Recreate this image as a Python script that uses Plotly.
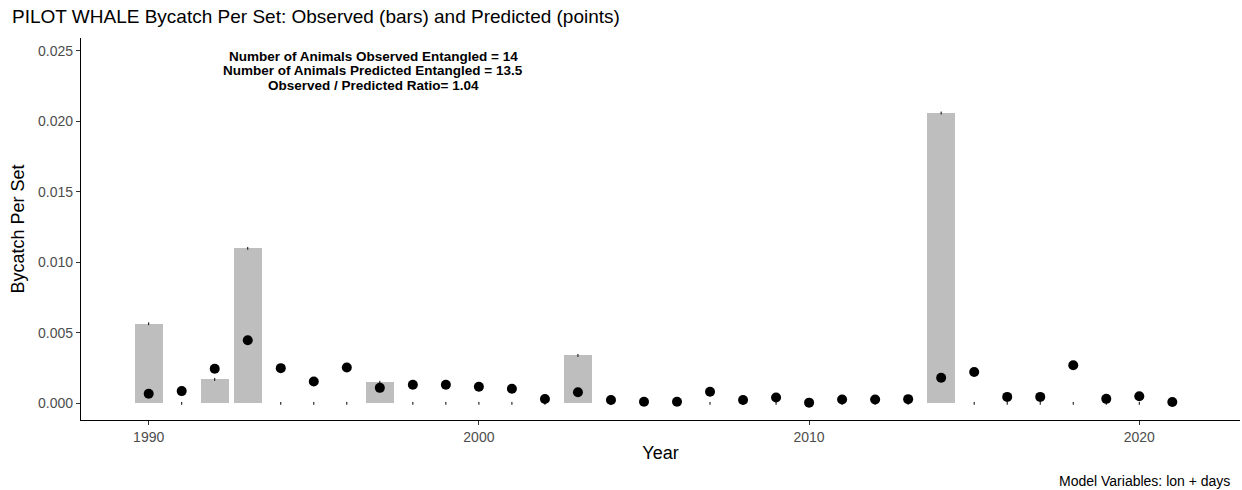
import plotly.graph_objects as go

years = list(range(1990, 2022))
observed = [0.00565, 0, 0.0017, 0.0110, 0, 0, 0, 0.0015, 0, 0,
            0, 0, 0, 0.0034, 0, 0, 0, 0, 0, 0,
            0, 0, 0, 0, 0.0206, 0, 0, 0, 0, 0,
            0, 0]
predicted = [0.00068, 0.00087, 0.00246, 0.00448, 0.0025, 0.00155, 0.00255, 0.0011, 0.00132, 0.00132,
             0.00118, 0.00104, 0.00031, 0.00079, 0.00024, 0.00012, 0.00012, 0.00082, 0.00024, 0.00042,
             0.00005, 0.00028, 0.00028, 0.0003, 0.00182, 0.00222, 0.00046, 0.00046, 0.00271, 0.00032,
             0.0005, 0.0001]

title = "PILOT WHALE Bycatch Per Set: Observed (bars) and Predicted (points)"
annot_lines = ["Number of Animals Observed Entangled = 14",
               "Number of Animals Predicted Entangled = 13.5",
               "Observed / Predicted Ratio= 1.04"]
caption = "Model Variables: lon + days"
y_ticks = [0.0, 0.005, 0.010, 0.015, 0.020, 0.025]
y_tick_labels = ["0.000", "0.005", "0.010", "0.015", "0.020", "0.025"]
x_ticks = [1990, 2000, 2010, 2020]

FONT = "Liberation Sans, Arial, sans-serif"
L, R, T, B = 81, 1240, 38, 420
W, H = 1242, 490

fig = go.Figure()
fig.add_trace(go.Bar(x=years, y=observed, width=0.85, marker=dict(color="#BEBEBE", line=dict(width=0)),
                     showlegend=False))
fig.add_trace(go.Scatter(x=years, y=observed, mode="markers",
                         marker=dict(symbol="line-ns", size=2, line=dict(color="black", width=1)),
                         showlegend=False))
fig.add_trace(go.Scatter(x=years, y=predicted, mode="markers",
                         marker=dict(color="black", size=10, line=dict(width=0)),
                         showlegend=False))

fig.update_layout(
    width=W, height=H,
    margin=dict(l=L, r=W - R, t=T, b=H - B),
    plot_bgcolor="white", paper_bgcolor="white",
    font=dict(family=FONT, color="black"),
    title=dict(text=title, x=12 / W, xanchor="left", y=1 - 16 / H, yanchor="middle",
               font=dict(size=19, color="black", family=FONT)),
    bargap=0,
)
fig.update_xaxes(range=[1987.95, 2023.05], tickmode="array", tickvals=x_ticks,
                 ticktext=[str(v) for v in x_ticks],
                 showline=True, linecolor="black", linewidth=1.2, mirror=False,
                 ticks="outside", ticklen=4, tickcolor="#333333", showgrid=False, zeroline=False,
                 tickfont=dict(size=14, color="#4D4D4D"),
                 title=dict(text="Year", font=dict(size=18, color="black"), standoff=2))
fig.update_yaxes(range=[-0.00118, 0.02592], tickmode="array", tickvals=y_ticks, ticktext=y_tick_labels,
                 showline=True, linecolor="black", linewidth=1.2,
                 ticks="outside", ticklen=4, tickcolor="#333333", showgrid=False, zeroline=False,
                 tickfont=dict(size=14, color="#4D4D4D"),
                 title=dict(text="Bycatch Per Set", font=dict(size=18, color="black"), standoff=8))

for line, ypix in zip(annot_lines, [57, 71, 85]):
    fig.add_annotation(text="<b>" + line + "</b>", xref="paper", yref="paper",
                       x=(373 - L) / (R - L), y=1 - (ypix - T) / (B - T),
                       xanchor="center", yanchor="middle", showarrow=False, align="center",
                       font=dict(size=13.5, color="black", family=FONT))
fig.add_annotation(text=caption, xref="paper", yref="paper", x=(1232 - L) / (R - L),
                   y=-(481 - B) / (B - T), xanchor="right", yanchor="middle", showarrow=False,
                   font=dict(size=14, color="black", family=FONT))

fig.write_html("out.html", config={"displayModeBar": False},
               post_script="document.body.style.margin='0';")
